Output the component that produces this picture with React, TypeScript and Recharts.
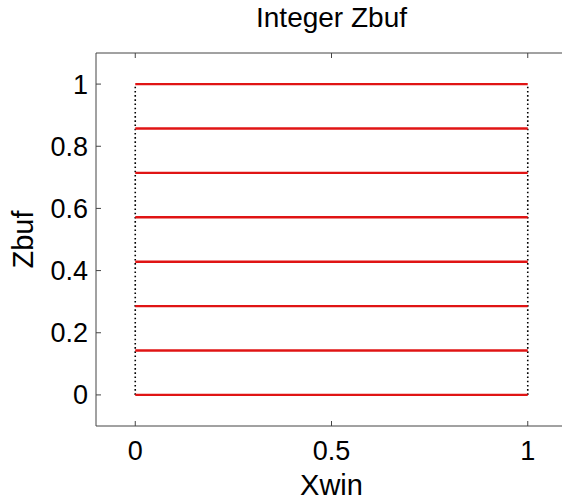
import React from 'react';
import { LineChart, Line, XAxis, YAxis } from 'recharts';

// quantised depth levels (8 steps of an integer z-buffer)
const zLevels = [0, 0.1429, 0.2857, 0.4286, 0.5714, 0.7143, 0.8571, 1];
// window x extent of each span
const xEdges = [0, 1];

const xTicks = [0, 0.5, 1];
const yTicks = [0, 0.2, 0.4, 0.6, 0.8, 1];
const xDomain = [-0.1, 1.1];
const yDomain = [-0.1, 1.1];

const FONT = '"Liberation Sans", Arial, Helvetica, sans-serif';
const AXIS = '#444';
const TICK_LEN = 5;

const W = 600;
const H = 500;
const margin = { top: 52, right: 32, bottom: 44, left: 36 };

const BottomTick = ({ x, y, payload }: any) => (
  <g>
    <line x1={x} y1={y} x2={x} y2={y - TICK_LEN} stroke={AXIS} />
    <text x={x} y={y + 34} textAnchor="middle" fontSize={27} fontFamily={FONT} fill="#000">
      {String(payload.value)}
    </text>
  </g>
);

const TopTick = ({ x, y }: any) => (
  <line x1={x} y1={y} x2={x} y2={y + TICK_LEN} stroke={AXIS} />
);

const LeftTick = ({ x, y, payload }: any) => (
  <g>
    <line x1={x} y1={y} x2={x + TICK_LEN} y2={y} stroke={AXIS} />
    <text x={x - 8} y={y + 9.5} textAnchor="end" fontSize={27} fontFamily={FONT} fill="#000">
      {String(payload.value)}
    </text>
  </g>
);

const RightTick = ({ x, y }: any) => (
  <line x1={x} y1={y} x2={x - TICK_LEN} y2={y} stroke={AXIS} />
);

export default function App() {
  const plotLeft = margin.left + 60;
  const plotRight = W - margin.right - 1;
  const plotTop = margin.top + 1;
  const plotBottom = H - margin.bottom - 30;
  const cx = (plotLeft + plotRight) / 2;
  const cy = (plotTop + plotBottom) / 2;

  return (
    <div
      style={{
        position: 'fixed',
        left: 0,
        top: 0,
        width: 562,
        height: 500,
        overflow: 'hidden',
        background: '#fff',
      }}
    >
      <LineChart width={W} height={H} margin={margin}>
        <XAxis
          xAxisId="bottom"
          type="number"
          dataKey="x"
          domain={xDomain}
          ticks={xTicks}
          allowDataOverflow
          height={30}
          tickSize={0}
          tickMargin={0}
          tickLine={false}
          axisLine={{ stroke: AXIS }}
          tick={<BottomTick />}
        />
        <XAxis
          xAxisId="top"
          orientation="top"
          type="number"
          dataKey="x"
          domain={xDomain}
          ticks={xTicks}
          allowDataOverflow
          height={1}
          tickSize={0}
          tickMargin={0}
          tickLine={false}
          axisLine={{ stroke: AXIS }}
          tick={<TopTick />}
        />
        <YAxis
          yAxisId="left"
          type="number"
          domain={yDomain}
          ticks={yTicks}
          allowDataOverflow
          width={60}
          tickSize={0}
          tickMargin={0}
          tickLine={false}
          axisLine={{ stroke: AXIS }}
          tick={<LeftTick />}
        />
        <YAxis
          yAxisId="right"
          orientation="right"
          type="number"
          domain={yDomain}
          ticks={yTicks}
          allowDataOverflow
          width={1}
          tickSize={0}
          tickMargin={0}
          tickLine={false}
          axisLine={{ stroke: AXIS }}
          tick={<RightTick />}
        />

        {/* dotted verticals at each window edge */}
        {xEdges.map((xv) => (
          <Line
            key={`edge-${xv}`}
            xAxisId="bottom"
            yAxisId="left"
            data={zLevels.map((z) => ({ x: xv, y: z }))}
            dataKey="y"
            stroke="#000"
            strokeWidth={1.6}
            strokeDasharray="1.6 2.6"
            dot={false}
            isAnimationActive={false}
          />
        ))}

        {/* one red span per depth level */}
        {zLevels.map((z) => (
          <Line
            key={`z-${z}`}
            xAxisId="bottom"
            yAxisId="left"
            data={xEdges.map((xv) => ({ x: xv, y: z }))}
            dataKey="y"
            stroke="#e01414"
            strokeWidth={2.4}
            dot={false}
            isAnimationActive={false}
          />
        ))}
      </LineChart>

      <svg
        width={562}
        height={500}
        style={{ position: 'absolute', left: 0, top: 0, pointerEvents: 'none' }}
      >
        <text x={cx} y={27} textAnchor="middle" fontSize={28} fontFamily={FONT} fill="#000">
          Integer Zbuf
        </text>
        <text x={cx} y={495} textAnchor="middle" fontSize={29} fontFamily={FONT} fill="#000">
          Xwin
        </text>
        <text
          x={0}
          y={0}
          transform={`translate(33, ${cy}) rotate(-90)`}
          textAnchor="middle"
          fontSize={29}
          fontFamily={FONT}
          fill="#000"
        >
          Zbuf
        </text>
      </svg>
    </div>
  );
}
